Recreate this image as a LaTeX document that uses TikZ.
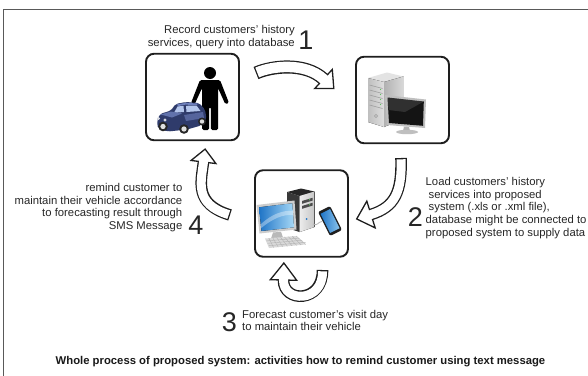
\documentclass[tikz,border=0pt]{standalone}
\usepackage{fontspec}
\setmainfont{Liberation Sans}
\usetikzlibrary{calc}

\definecolor{ink}{HTML}{1E1E1E}
\definecolor{navy}{HTML}{2F3B6B}
\definecolor{navylight}{HTML}{6E80BC}
\definecolor{glass}{HTML}{B4C6EC}
\definecolor{screenblue}{HTML}{1F74C6}
\definecolor{skyblue}{HTML}{A6D8F6}
\definecolor{ledgreen}{HTML}{5FC35F}

\tikzset{
  frameline/.style={draw=black!65, line width=1.3pt},
  panel/.style={draw=ink, line width=1.9pt, rounded corners=8pt, fill=white,
                minimum width=93pt, minimum height=86.5pt, inner sep=0pt},
  txt/.style={font=\fontsize{11.3pt}{12.8pt}\selectfont, text=black!85, inner sep=0pt},
  bigdigit/.style={font=\fontsize{27pt}{27pt}\selectfont, text=black!85, inner sep=0pt},
  captiontxt/.style={font=\fontsize{11.3pt}{13pt}\selectfont\bfseries, text=black!90, inner sep=0pt},
}

% Outlined (hollow) curved arrow:
% #1 tail, #2 #3 control points, #4 head base, #5 shaft width, #6 head half width, #7 head length
\newcommand\hollowarrow[7]{%
  \draw[line width=#5pt+2.6pt, draw=ink] (#1) .. controls (#2) and (#3) .. (#4);
  \filldraw[fill=white, draw=ink, line width=1.3pt, line join=miter]
    ($(#4)!#6pt!90:(#3)$) -- ($(#4)!#7pt!180:(#3)$) -- ($(#4)!#6pt!-90:(#3)$) -- cycle;
  \draw[line width=#5pt, draw=white, shorten <=1.3pt]
    (#1) .. controls (#2) and (#3) .. (#4) -- ($(#4)!2.5pt!180:(#3)$);
}

\begin{document}
\begin{tikzpicture}[x=1pt,y=-1pt]
\useasboundingbox (0,0) rectangle (588,375);

% outer frame (runs off the right and bottom edges)
\draw[frameline] (3.5,380) -- (3.5,9.5) -- (595,9.5);

% the three panels
\node[panel] (customer) at (192.5,97) {};
\node[panel] (server) at (402.5,100) {};
\node[panel] (desktop) at (301.5,213.5) {};

% ---- customer and car ----
\fill[black] (210,73) circle[radius=6];
\fill[black, rounded corners=1.5pt] (200,80) -- (220,80) -- (229,103) -- (225.3,104.2)
  -- (218,88) -- (218,130) -- (210.8,130) -- (210.8,107) -- (209.2,107) -- (209.2,130)
  -- (202,130) -- (202,88) -- (194.7,104.2) -- (191,103) -- cycle;
\fill[navy, rounded corners=2pt] (157,121) -- (160,114) -- (171,110.5) -- (175.5,104)
  -- (186,102) -- (199,103) -- (205,109.5) -- (206.5,119) -- (201,125.5) -- (187,129.5)
  -- (168,131.5) -- (158,128.5) -- cycle;
\fill[navylight] (176.5,104.5) -- (186,102.8) -- (198.5,103.6) -- (196,105.2) -- (185.5,104.6) -- (178.5,106) -- cycle;
\fill[glass] (177.5,106.5) -- (183.5,105.8) -- (184,112) -- (174,112.8) -- cycle;
\fill[glass] (186,105.8) -- (196.5,105.5) -- (200.5,111) -- (186.5,112) -- cycle;
\fill[navylight!80!navy] (160.5,114.5) -- (171,111.5) -- (182,113.5) -- (172,117.5) -- cycle;
\fill[navylight!60!navy] (184,115) -- (203,112) -- (204,118) -- (186,121) -- cycle;
\fill[white!80!navy] (158.5,118.5) circle[radius=1.7];
\fill[white!80!navy] (165,120) circle[radius=1.7];
\foreach \cx/\cy/\r in {163/126.5/4.8, 184/129/4.8, 202/121.5/4} {
  \fill[black!85] (\cx,\cy) circle[radius=\r];
  \fill[gray!25] (\cx,\cy) circle[radius=\r*0.55];
}

% ---- server tower and monitor ----
\fill[gray!22] (368,78) -- (387,72.5) -- (403.5,76.5) -- (384,82) -- cycle;
\fill[left color=gray!50, right color=gray!25] (368,78) -- (384,82) -- (384,127) -- (368,122) -- cycle;
\fill[left color=gray!60, right color=gray!30] (384,82) -- (403.5,76.5) -- (403.5,119) -- (384,127) -- cycle;
\foreach \k in {0,...,4}
  \draw[gray!75, line width=0.6pt] (369.5,{85+5*\k}) -- (382.5,{88.5+5*\k});
\foreach \k in {0,...,3}
  \fill[ledgreen] (380.5,{89.5+5*\k}) circle[radius=0.6];
\draw[gray!70, line width=0.6pt] (376,116) circle[radius=1.6];
\fill[gray!50] (385,95) -- (426,99.5) -- (425,128) -- (387,125) -- cycle;
\fill[black!92] (387.5,97.5) -- (423.8,101.5) -- (423,125.8) -- (389,123) -- cycle;
\fill[white, opacity=0.12] (387.5,97.5) -- (423.8,101.5) -- (405,112) -- (388.5,110) -- cycle;
\fill[gray!60] (404,126.5) -- (409,127) -- (410,131) -- (403,131) -- cycle;
\fill[gray!50] (407,132) ellipse[x radius=11, y radius=2.2];

% ---- desktop computer and phone ----
\fill[black!85] (287,192) -- (301,188.5) -- (314.5,191.5) -- (299.5,196) -- cycle;
\fill[black!78] (287,192) -- (299.5,196) -- (299.5,232) -- (287,228) -- cycle;
\fill[left color=gray!15, right color=gray!45] (299.5,196) -- (314.5,191.5) -- (314.5,227) -- (299.5,232) -- cycle;
\foreach \k in {0,1}
  \fill[black!70] (302,{201+5*\k}) -- (312.5,{197.8+5*\k}) -- (312.5,{200.6+5*\k}) -- (302,{203.8+5*\k}) -- cycle;
\foreach \k in {0,1}
  \fill[ledgreen] (309.5,{199.7+5*\k}) circle[radius=0.7];
\fill[screenblue] (306.5,219) circle[radius=1];
\fill[gray!40] (256.5,205) -- (294.5,200.5) -- (296.5,229.5) -- (259.5,233.5) -- cycle;
\fill[left color=screenblue, right color=skyblue] (259,207.3) -- (292.3,203.3) -- (294,227.3) -- (261.5,231) -- cycle;
\fill[white, opacity=0.35] (261,224) .. controls (272,214) and (283,210) .. (293,211) -- (293.3,215) .. controls (283,214) and (272,219) .. (261.3,228) -- cycle;
\fill[gray!55] (273,232.5) -- (281,231.8) -- (283,237.5) -- (271,238.5) -- cycle;
\fill[gray!30] (265,238.5) -- (296,236) -- (305.5,244.5) -- (269,248) -- cycle;
\foreach \k in {1,2,3}
  \draw[gray!60, line width=0.4pt] ({265+1.3*\k},{238.5+2.4*\k}) -- ({296+3.2*\k},{236+2.1*\k});
\foreach \k in {1,...,8}
  \draw[gray!60, line width=0.4pt] ({265+3.9*\k},{238.5-0.31*\k}) -- ({269+4.6*\k},{248-0.44*\k});
\draw[gray!60, line width=0.8pt] (313,224) .. controls (318,226.5) and (318,221.5) .. (322,221.5);
\fill[black!88, rounded corners=2pt] (318,212) -- (330,206) -- (342,230) -- (330,236) -- cycle;
\fill[left color=screenblue, right color=skyblue!80!screenblue] (320.4,213.8) -- (330,209) -- (339.6,228.2) -- (330,233) -- cycle;

% ---- arrows ----
\coordinate (a1s) at (256,73);   \coordinate (a1c) at (272,66);  \coordinate (a1d) at (305,62);  \coordinate (a1e) at (323.5,79);
\coordinate (a2s) at (401,158);  \coordinate (a2c) at (402,192); \coordinate (a2d) at (395,207); \coordinate (a2e) at (371,214.5);
\coordinate (a3s) at (322.5,270);\coordinate (a3c) at (323,303); \coordinate (a3d) at (283,303); \coordinate (a3e) at (283.5,280);
\coordinate (a4s) at (230,215);  \coordinate (a4c) at (194,204); \coordinate (a4d) at (201,182); \coordinate (a4e) at (203.5,162);
\hollowarrow{a1s}{a1c}{a1d}{a1e}{10.5}{13}{14}
\hollowarrow{a2s}{a2c}{a2d}{a2e}{9}{14}{15}
\hollowarrow{a3s}{a3c}{a3d}{a3e}{9}{13.2}{17}
\hollowarrow{a4s}{a4c}{a4d}{a4e}{9}{12.5}{13}

% ---- step labels ----
\node[txt, align=right, anchor=east] (t1) at (295,37) {Record customers' history\\services, query into database};
\node[bigdigit] (n1) at (306,40) {1};
\node[txt, align=left, anchor=west] (t2) at (425.5,208) {Load customers' history\\\hspace*{3pt}services into proposed\\\hspace*{3pt}system (.xls or .xml file),\\database might be connected to\\proposed system to supply data};
\node[bigdigit] (n2) at (415.5,217.5) {2};
\node[bigdigit] (n3) at (229.5,322) {3};
\node[txt, align=left, anchor=west] (t3) at (242,320.5) {Forecast customer's visit day\\to maintain their vehicle};
\node[txt, align=right, anchor=east] (t4) at (182.5,207.6) {remind customer to\\maintain their vehicle accordance\\to forecasting result through\\SMS Message};
\node[bigdigit] (n4) at (196,225.5) {4};

\node[captiontxt] (cap) at (300.5,362) {Whole process of proposed system: activities how to remind customer using text message};
\end{tikzpicture}
\end{document}
